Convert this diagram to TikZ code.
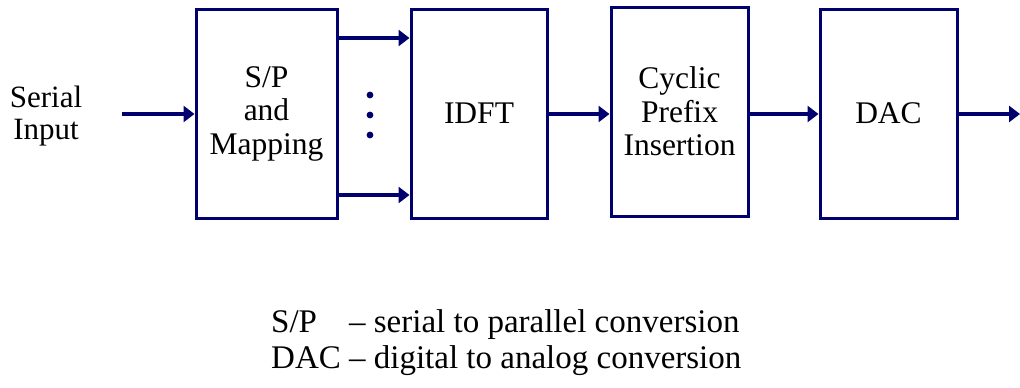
\documentclass[tikz,border=0pt]{standalone}
\usepackage{fontspec}
\setmainfont{Liberation Serif}
\usetikzlibrary{arrows.meta}
\definecolor{navy}{RGB}{0,0,110}
\tikzset{
  block/.style={draw=navy, line width=3pt, minimum height=209pt, inner sep=0pt,
    align=center, font=\fontsize{31.5}{33.5}\selectfont},
  flow/.style={draw=navy, line width=3.6pt, -{Triangle[length=11pt,width=16pt]}},
  label/.style={align=center, font=\fontsize{31}{32}\selectfont, inner sep=0pt},
  note/.style={anchor=base west, inner sep=0pt, font=\fontsize{33}{35}\selectfont},
}
\begin{document}
\begin{tikzpicture}[x=1pt, y=-1pt]
\useasboundingbox (0,0) rectangle (1020,388);

% processing chain
\node[block, minimum width=141pt] (sp)   at (266.5,113.5) {S/P\\and\\Mapping};
\node[block, minimum width=136pt] (idft) at (479,113.5)   {IDFT};
\node[block, minimum width=137pt] (cp)   at (679.5,111.5) {Cyclic\\Prefix\\Insertion};
\node[block, minimum width=137pt] (dac)  at (888.5,113.5) {DAC};

% input label and end points
\node[label] (in) at (46,116) {Serial\\Input};
\coordinate (src) at (122,114);
\coordinate (out) at (1020,114);

% connectors
\draw[flow] (src) -- (src -| sp.west);
\draw[flow] (sp.east |- 0,38)  -- (idft.west |- 0,38);
\draw[flow] (sp.east |- 0,195) -- (idft.west |- 0,195);
\draw[flow] (idft.east |- 0,114) -- (cp.west |- 0,114);
\draw[flow] (cp.east |- 0,114) -- (dac.west |- 0,114);
\draw[flow] (dac.east |- 0,114) -- (out);

% parallel streams indicator
\foreach \y in {95,115,135}
  \fill[navy] (370,\y) circle (3.4pt);

% abbreviations
\node[note] (n1) at (271,332) {\rlap{S/P}\hphantom{DAC} -- serial to parallel conversion};
\node[note] (n2) at (271,368) {DAC -- digital to analog conversion};
\end{tikzpicture}
\end{document}
